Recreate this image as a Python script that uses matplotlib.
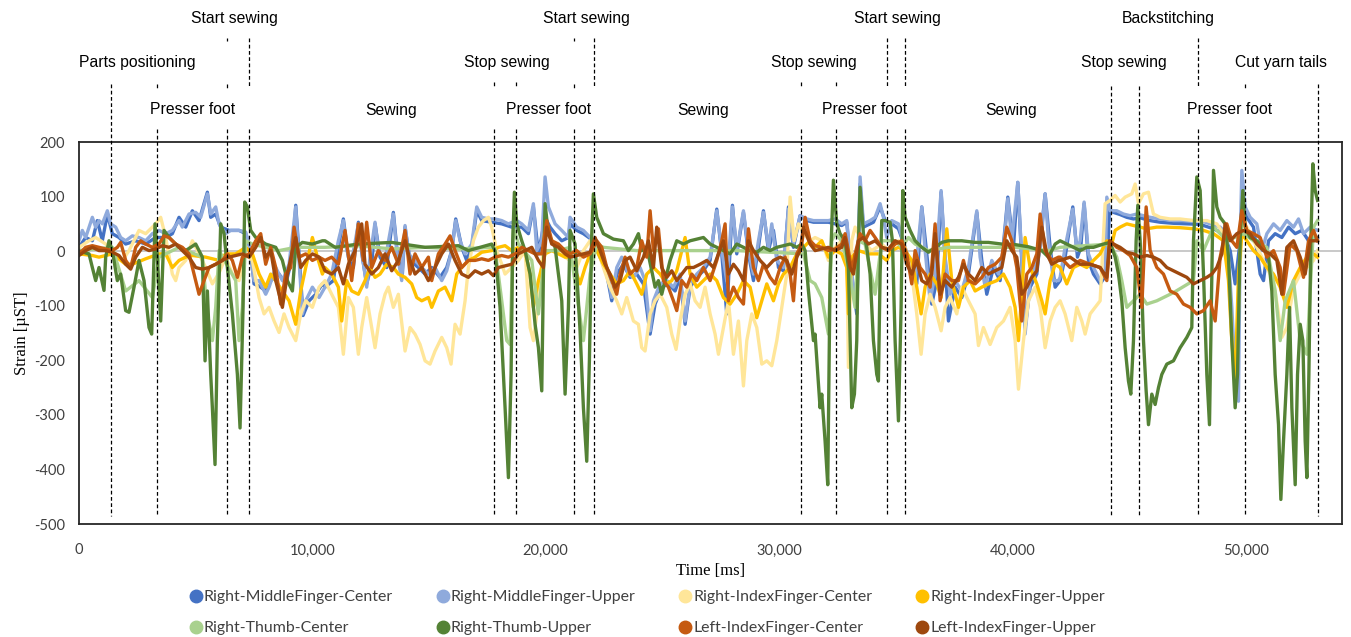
import numpy as np
import matplotlib
matplotlib.use("Agg")
import matplotlib.pyplot as plt
import matplotlib.transforms as mtransforms
from matplotlib.lines import Line2D
from matplotlib.ticker import FuncFormatter

# (time [ms], strain [uST])
middle_center = [(0, 7), (286, 25), (572, 19), (786, 56), (1000, 19), (1215, 68), (1429, 32), (1715, 25), (2001, 13), (2429, 19), (2858, 13), (3287, 25), (3715, 25), (4001, 32), (4287, 62), (4573, 44), (4859, 74), (5144, 56), (5502, 108), (5645, 62), (5859, 68), (6073, 44), (6431, 38), (6859, 38), (7145, 32), (7359, 1), (7502, -60), (7788, -66), (8002, -73), (8217, -54), (8574, -42), (8860, -60), (9146, -11), (9289, 84), (9431, -5), (9603, -118), (9860, -91), (10146, -79), (10432, -60),
                 (10544, -66), (10901, -54), (11116, 7), (11330, 59), (11544, -11), (11759, -30), (11973, 53), (12144, -11), (12330, -60), (12545, -24), (12688, 50), (12902, -11), (13188, -30), (13473, 71), (13659, -11), (13859, -42), (13974, 44), (14188, -17), (14545, -30), (14831, -42), (15117, -30), (15474, -48), (15760, -30), (15974, 1), (16146, 59), (16403, 7), (16617, -17), (16832, 7), (17046, 74), (17260, 56), (17689, 53), (18118, 50), (18546, 44), (18975, 44), (19261, 32), (19475, 81), (19690, -5), (19975, 62), (20189, 44), (20404, 32), (20690, 19), (20976, 25),
                 (21046, 50), (21332, 38), (21618, 32), (22046, 19), (22332, -11), (22618, -42), (22832, -91), (23047, -42), (23332, -24), (23618, -48), (23904, -42), (24190, -60), (24476, -152), (24690, -97), (24976, -66), (25261, -60), (25547, -73), (25762, -48), (25976, -134), (26191, -66), (26476, -48), (26762, -36), (27048, -17), (27334, 77), (27548, -5), (27762, -115), (28005, 84), (28191, -5), (28477, 71), (28691, -5), (28906, -54), (29120, 7), (29334, 74), (29549, 1), (29763, 38), (29978, -30), (30192, -36), (30406, 81), (30620, 7), (30906, 65), (31192, 56), (31478, 53),
                 (31547, 53), (32119, 53), (32690, 47), (32904, 53), (33119, -48), (33333, -115), (33476, 123), (33619, 44), (34048, 53), (34334, 81), (34548, 56), (34834, 50), (35120, 41), (35405, 7), (35691, -36), (35905, -60), (36120, 81), (36334, -5), (36549, -97), (36763, -54), (36949, 108), (37120, -17), (37263, -128), (37549, -66), (37835, -85), (38120, -42), (38478, 71), (38692, -17), (38906, -79), (39192, -30), (39478, -54), (39807, 99), (40049, 7), (40235, 126), (40406, -17), (40549, -140), (40764, -66), (41050, -42), (41407, 105), (41621, 7), (41836, -66),
                 (42049, -54), (42263, -11), (42592, 81), (42792, -11), (42935, 7), (43078, 87), (43264, -17), (43478, -42), (43764, -60), (44050, -42), (44164, 77), (44336, 71), (44621, 67), (44907, 62), (45193, 59), (45479, 61), (45908, 56), (46336, 53), (46907, 51), (47479, 50), (48051, 49), (48622, 41), (49051, 32), (49337, 1), (49551, -60), (49765, 19), (49837, 81), (50051, 62), (50337, 44), (50623, -42), (50766, -54), (50980, 19), (51266, 32), (51552, 25), (51838, 44), (52124, 32), (52409, 38), (52695, 19), (53081, 25)]

middle_upper = [(0, 19), (143, 38), (286, 25), (572, 62), (715, 44), (857, 56), (1000, 50), (1215, 74), (1358, 50), (1572, 44), (1786, 25), (2001, 19), (2286, 28), (2572, 25), (2858, 19), (3144, 32), (3430, 38), (3715, 32), (4001, 38), (4287, 56), (4430, 44), (4716, 68), (5002, 71), (5216, 62), (5502, 105), (5645, 68), (5859, 81), (6002, 50), (6288, 32), (6502, 38), (6859, 38), (7145, 35), (7288, 13), (7502, -54), (7717, -54), (8002, -79), (8145, -66), (8431, -30), (8717, -54), (9003, -24), (9289, 81), (9431, -17), (9574, -115), (9717, -91), (10003, -66), (10289, -85),
                (10544, -66), (10830, -42), (11116, 19), (11330, 56), (11473, 1), (11687, -17), (11973, 50), (12116, 1), (12330, -66), (12473, -11), (12688, 53), (12830, 1), (13116, -17), (13473, 68), (13616, 1), (13831, -54), (13974, 47), (14117, -5), (14402, -17), (14688, -30), (14974, -42), (15260, -30), (15546, -54), (15760, -36), (15974, 1), (16146, 56), (16332, 19), (16546, -5), (16832, 13), (17046, 81), (17260, 62), (17546, 59), (17832, 59), (18118, 56), (18404, 50), (18761, 56), (18975, 50), (19261, 38), (19475, 87), (19618, 1), (19833, 19), (19975, 136), (20118, 81), (20404, 50), (20690, 38), (20976, 25),
                (21046, 62), (21332, 44), (21618, 38), (22046, 19), (22332, 1), (22618, -30), (22832, -85), (23047, -30), (23261, -11), (23547, -42), (23761, -48), (24047, -30), (24261, -54), (24476, -146), (24619, -91), (24904, -60), (25190, -54), (25476, -66), (25762, -42), (25976, -128), (26191, -60), (26476, -42), (26762, -30), (27048, -11), (27334, 74), (27548, 1), (27762, -54), (28005, 81), (28191, 1), (28477, 74), (28691, 1), (28906, -42), (29120, 19), (29334, 71), (29549, 7), (29692, 50), (29906, -17), (30192, -30), (30406, 77), (30620, 13), (30906, 65), (31192, 59), (31478, 56),
                (31547, 56), (32119, 56), (32404, 59), (32690, 50), (32904, 56), (33119, -42), (33333, -103), (33476, 136), (33619, 50), (33905, 56), (34119, 62), (34334, 87), (34476, 62), (34619, 25), (34834, 56), (35120, 50), (35334, 13), (35620, -30), (35834, -54), (35977, 19), (36120, 81), (36263, 1), (36477, -91), (36691, -42), (36949, 111), (37120, -11), (37335, -79), (37549, -54), (37835, -73), (38120, -30), (38478, 74), (38620, -11), (38835, -66), (39121, -17), (39407, -42), (39621, 1), (39807, 96), (39978, 19), (40235, 126), (40406, -11), (40549, -152), (40764, -54), (40978, -30), (41193, 1), (41407, 105), (41550, 19), (41764, -54), (41979, -54),
                (42049, -48), (42263, 7), (42592, 77), (42764, 1), (42906, 19), (43078, 90), (43264, -5), (43478, -30), (43764, -54), (43978, -42), (44050, 99), (44193, 74), (44478, 74), (44764, 68), (45050, 65), (45336, 68), (45622, 65), (45908, 62), (46336, 59), (46907, 56), (47479, 56), (48051, 56), (48480, 50), (48908, 44), (49194, 32), (49408, -103), (49551, -226), (49694, -275), (49765, 19), (49837, 148), (49980, 81), (50194, 62), (50480, 50), (50694, 1), (50909, 32), (51195, 50), (51480, 38), (51766, 56), (52052, 44), (52266, 59), (52481, 32), (52767, 44), (53081, 38)]

index_center = [(0, 7), (429, 19), (715, 25), (1143, 13), (1429, 1), (1858, -17), (2144, 1), (2572, 38), (2858, 32), (3287, 50), (3501, 62), (3715, 25), (4001, -42), (4144, -54), (4287, -30), (4573, -17), (4859, 19), (5144, -5), (5430, -30), (5716, -60), (6002, -40), (6288, -11), (6573, -42), (6859, -54), (7145, -5), (7431, -17), (7717, -85), (7931, -115), (8145, -103), (8360, -128), (8574, -149), (8788, -115), (9003, -140), (9289, -164), (9503, -115), (9717, -91), (10003, -103), (10289, -66),
                (10544, -54), (10830, -79), (11116, -103), (11330, -189), (11544, -85), (11759, -103), (11973, -189), (12116, -140), (12330, -85), (12545, -140), (12688, -177), (12902, -115), (13116, -79), (13259, -66), (13473, -103), (13688, -79), (13974, -183), (14188, -140), (14402, -152), (14617, -171), (14831, -201), (15045, -207), (15260, -183), (15546, -158), (15760, -177), (15946, -207), (16117, -134), (16332, -152), (16546, -91), (16689, -30), (16903, 19), (17117, 44), (17332, 56), (17546, 62), (17689, 44), (17903, 1), (18118, -24), (18261, -42), (18546, -30), (18832, -17), (19118, 1), (19332, -140), (19475, -164), (19690, -91), (19975, 44), (20261, 19), (20547, 1), (20833, -11),
                (21046, -17), (21332, -30), (21618, 1), (21904, 19), (22189, 7), (22475, -30), (22761, -66), (23047, -91), (23261, -115), (23475, -85), (23761, -128), (23975, -134), (24118, -177), (24261, -183), (24476, -115), (24690, -91), (24904, -79), (25190, -103), (25404, -152), (25590, -180), (25762, -128), (25976, -79), (26191, -60), (26405, -91), (26619, -103), (26833, -66), (27048, -115), (27262, -152), (27405, -189), (27619, -140), (27834, -91), (28048, -189), (28262, -128), (28477, -247), (28620, -164), (28834, -115), (29048, -140), (29263, -207), (29477, -201), (29692, -210), (29906, -164), (30120, -103), (30335, -42), (30477, 99), (30649, 19), (30835, 50), (31049, 32), (31335, 19),
                (31547, 25), (31833, 19), (32119, -17), (32404, 7), (32690, 19), (32904, -5), (32976, -213), (33119, 19), (33262, 44), (33548, 19), (33976, 1), (34405, 13), (34691, 1), (35120, 19), (35405, 7), (35691, -42), (35905, -115), (36091, -189), (36263, -115), (36477, -79), (36691, -103), (36949, -146), (37120, -103), (37335, -85), (37621, -115), (37835, -66), (38120, -91), (38406, -115), (38549, -173), (38763, -140), (39049, -171), (39335, -140), (39621, -128), (39906, -103), (40121, -164), (40264, -253), (40478, -164), (40692, -91), (40978, -66), (41193, -103), (41407, -177), (41621, -128), (41836, -103),
                (42049, -91), (42263, -115), (42549, -164), (42764, -103), (42978, -128), (43121, -152), (43335, -115), (43549, -103), (43764, -91), (43978, 87), (44193, 93), (44407, 102), (44621, 90), (44836, 99), (45121, 105), (45264, 123), (45407, 87), (45622, 105), (45836, 108), (46050, 68), (46336, 62), (46765, 59), (47193, 59), (47765, 56), (48337, 56), (48765, 50), (49051, 32), (49265, -42), (49408, -164), (49551, -250), (49694, -103), (49837, 50), (50051, 44), (50337, 19), (50623, -5), (50909, -30), (51195, -54), (51409, -115), (51552, -158), (51766, -140), (52052, -66), (52338, -42), (52624, -30), (52909, -17), (53081, 1)]

index_upper = [(0, -5), (572, -8), (857, -11), (1429, -5), (2001, -24), (2286, -24), (2858, -14), (3430, -5), (3715, -5), (4001, -30), (4287, -17), (4573, -11), (4859, -8), (5430, -11), (6002, -17), (6288, -5), (6716, -5), (7145, 7), (7431, -5), (7717, -42), (8002, -66), (8217, -42), (8431, -54), (8717, -73), (9003, -91), (9289, -134), (9503, -73), (9717, -30), (10003, 25), (10217, -11), (10432, -42),
               (10544, -30), (10830, -42), (11116, -66), (11259, -128), (11473, -54), (11687, -73), (11973, -79), (12259, -54), (12473, -30), (12688, -48), (12902, -42), (13188, -24), (13473, -30), (13688, -42), (13974, -48), (14259, -60), (14474, -85), (14688, -91), (14974, -85), (15117, -103), (15403, -73), (15689, -66), (15974, -91), (16189, -42), (16403, -30), (16689, -17), (16975, -11), (17260, -2), (17689, 1), (17975, 7), (18261, 10), (18546, 1), (18832, 7), (19118, 1), (19332, -42), (19475, -103), (19690, -54), (19975, -5), (20261, 1), (20547, -5), (20833, -11),
               (21046, -11), (21332, -42), (21475, -60), (21689, -30), (21904, -5), (22189, 1), (22475, -24), (22761, -42), (23047, -60), (23332, -54), (23618, -36), (23904, -60), (24118, -79), (24333, -42), (24619, -30), (24904, -42), (25190, -60), (25404, -54), (25619, -36), (25976, 25), (26191, -42), (26476, -66), (26762, -54), (27048, -42), (27334, -54), (27619, -85), (27905, -97), (28191, -79), (28477, -54), (28763, -66), (29048, -122), (29263, -91), (29477, -60), (29763, -91), (29978, -60), (30192, -42), (30477, -30), (30763, -5), (31049, 7), (31335, 19),
               (31547, 7), (31833, 19), (32119, -11), (32404, 1), (32690, -5), (32904, -30), (32976, -115), (33119, -11), (33405, 1), (33833, -5), (34262, -5), (34619, -17), (34834, 1), (35120, 7), (35405, 1), (35691, -17), (35905, -66), (36091, -115), (36263, -66), (36477, -42), (36763, -60), (36949, -85), (37192, 41), (37406, -54), (37692, -103), (37906, -66), (38192, -54), (38406, -73), (38692, -66), (38978, -60), (39335, -54), (39621, -42), (39906, -66), (40121, -103), (40264, -164), (40406, -79), (40549, 25), (40764, -30), (41050, -60), (41264, -91), (41407, -115), (41621, -54), (41836, -24),
               (42049, -30), (42335, -60), (42621, -30), (42906, -24), (43192, -30), (43478, -17), (43764, -5), (44050, 19), (44193, 1), (44407, 38), (44621, 44), (44907, 50), (45193, 47), (45479, 44), (45765, 41), (46193, 44), (46622, 44), (47193, 43), (47765, 41), (48194, 38), (48622, 32), (49051, 19), (49265, -54), (49408, -164), (49551, -238), (49694, -42), (49837, 32), (50051, 19), (50337, 1), (50623, -11), (50909, -30), (51195, -42), (51480, -66), (51766, -103), (52052, -54), (52338, -30), (52624, -11), (52909, -5), (53081, -11)]

thumb_center = [(0, 1), (1429, 7), (2001, -73), (2572, -54), (3144, -85), (3430, -11), (4287, 7), (5287, -11), (5502, -115), (5716, -164), (5859, -103), (6002, 1), (6716, -54), (6859, -164), (7002, -103), (7145, 19), (7431, 13), (8574, 1), (9289, 7), (10003, 7),
                (10544, 7), (11973, 10), (13402, 4), (14831, 7), (16260, 4), (17689, 7), (17832, 4), (18118, -91), (18332, -164), (18475, -171), (18618, 44), (18832, 13), (19404, -17), (19690, -115), (19975, 1), (20547, 1),
                (21046, 7), (21618, -164), (21904, -42), (22189, 13), (22475, 7), (23904, 1), (25333, 1), (28191, 1), (31049, -5), (31335, -54),
                (31547, -60), (31833, -85), (32119, -152), (32262, 19), (32404, 32), (32690, 19), (32976, -30), (33262, -103), (33405, 19), (33690, 13), (34119, -79), (34405, 19), (34977, 19), (35262, 7), (35548, 25), (35834, 13), (36406, 1), (37263, 7), (38692, 7), (40121, 7), (41550, 1),
                (42049, 7), (44193, 13), (44478, -11), (44693, -54), (44907, -103), (45193, -91), (45479, -79), (45765, -97), (46193, -91), (46907, -76), (47765, -54), (47908, 19), (48194, 1), (48622, 44), (48908, 32), (49194, 19), (49908, 32), (50337, 19), (50909, 7), (51266, -73), (51480, -164), (51695, -91), (52052, -54), (52338, -164), (52624, -189), (52909, 44), (53081, 56)]

thumb_upper = [(0, 0), (429, -5), (572, -30), (715, -54), (857, -30), (1072, -72), (1143, -11), (1286, 19), (1429, 1), (1643, -54), (1786, -42), (2000, -109), (2144, -112), (2358, -66), (2572, -17), (2787, -54), (3001, -140), (3115, -152), (3258, 50), (3358, -11), (3501, -128), (3644, 38), (3858, 25), (4287, 7), (4573, 1), (5002, 13), (5287, -11), (5402, -201), (5502, -73), (5645, -226), (5716, -287), (5830, -391), (5930, -164), (6073, 50), (6216, 32), (6359, -30), (6573, -115), (6788, -226), (6902, -324), (7031, -103), (7102, 90), (7216, 81), (7359, 38), (7574, 25), (8002, 13), (8431, 7), (8717, -17), (8931, -54), (9146, -73), (9289, 7), (9574, 16), (10003, 13), (10432, 19),
               (10544, 19), (10973, 7), (11973, 13), (13402, 16), (14831, 7), (16260, 10), (16689, 1), (17689, 13), (17832, 0), (18046, -103), (18261, -287), (18404, -415), (18518, -226), (18589, 19), (18661, 108), (18761, 50), (18975, 19), (19118, 1), (19332, -42), (19547, -134), (19690, -177), (19833, -256), (19904, -42), (19975, 87), (20118, 32), (20404, 7), (20547, -42), (20690, -91), (20833, -262), (20976, -103),
               (21046, 38), (21260, 13), (21475, -146), (21618, -287), (21761, -385), (21875, -200), (21975, 30), (22046, 105), (22189, 62), (22475, 32), (22904, 22), (23332, 19), (23547, 1), (23761, 13), (23975, 32), (24118, 1), (24333, 7), (24547, -36), (24690, -66), (24833, -54), (24976, -79), (25190, -42), (25333, -17), (25619, 19), (25905, 13), (26191, 19), (26476, 22), (26762, 25), (27048, 13), (27334, 7), (27620, 1), (27905, -5), (28191, 13), (28477, 7), (28763, 1), (29048, -2), (29334, 7), (29620, 1), (29906, 7), (30192, 10), (30477, 13), (30763, 7), (30977, 13), (31120, 1), (31263, -73), (31478, -164),
               (31547, -152), (31761, -287), (31833, -262), (31976, -348), (32090, -428), (32190, -42), (32333, 130), (32476, 50), (32619, 32), (32833, 19), (32976, -30), (33119, -287), (33233, -262), (33333, -164), (33405, 19), (33476, 117), (33619, 32), (33762, 7), (33905, -42), (34048, -164), (34191, -226), (34262, -238), (34334, -42), (34405, 56), (34548, 56), (34762, 53), (34862, 19), (34977, -164), (35120, -311), (35234, -103), (35305, 111), (35405, 62), (35620, 38), (35834, 19), (36120, 7), (36406, -2), (36691, 7), (36977, 16), (37263, 19), (37835, 19), (38406, 16), (38978, 16), (39549, 13), (40121, 12), (40692, 8), (41264, 1), (41550, -11), (41836, 13),
               (42049, 19), (42621, 7), (42906, 1), (43192, 7), (43478, 7), (43907, 13), (44193, 16), (44407, -11), (44550, -42), (44693, -91), (44836, -177), (44978, -238), (45078, -262), (45193, -164), (45307, 19), (45379, 84), (45479, 19), (45622, -164), (45736, -256), (45836, -318), (45979, -262), (46122, -281), (46265, -250), (46407, -226), (46622, -207), (46907, -201), (47193, -177), (47479, -158), (47693, -140), (47765, 19), (47908, 136), (48051, 111), (48194, -42), (48337, -226), (48451, -318), (48551, -42), (48622, 148), (48765, 81), (48908, 62), (49122, 50), (49265, -11), (49408, -164), (49551, -287), (49651, -226), (49765, 19), (49880, 111), (49980, 44), (50194, 25), (50480, 19), (50766, 7), (50980, -11), (51123, -73), (51266, -226), (51409, -318), (51509, -455), (51623, -348), (51766, -226), (51881, -103), (51981, -287), (52124, -428), (52224, -226), (52338, -134), (52452, -164), (52552, -348), (52624, -415), (52710, -226), (52795, 19), (52881, 160), (52981, 111), (53081, 93)]

left_center = [(0, -5), (286, 7), (572, 10), (857, 7), (1143, 4), (1429, 1), (1643, 7), (1786, 16), (2001, -17), (2215, -30), (2429, 7), (2644, 19), (2858, 13), (3144, 7), (3430, 13), (3644, 28), (3858, 25), (4144, 13), (4430, 7), (4716, -5), (4930, -42), (5144, -79), (5359, -54), (5573, -30), (5859, -24), (6145, -17), (6359, -5), (6573, -17), (6788, -48), (7002, -11), (7288, -5), (7574, 19), (7788, 32), (8002, -24), (8217, 7), (8431, -30), (8645, -97), (8860, -42), (9074, -30), (9217, 44), (9431, -11), (9717, -5), (10003, -17), (10289, -11),
               (10544, -17), (10830, -11), (11116, -24), (11402, 38), (11687, -54), (11973, 50), (12187, -17), (12330, 53), (12545, -30), (12830, 1), (13116, -17), (13402, 7), (13688, -24), (13974, 38), (14188, -42), (14402, -5), (14688, -30), (14974, -11), (15117, -54), (15403, -5), (15689, 13), (15903, 28), (16117, 1), (16403, -30), (16689, -17), (16975, -17), (17260, -14), (17546, -17), (17832, -11), (18118, -8), (18404, -11), (18689, -5), (18975, 7), (19261, 1), (19547, -5), (19833, -5), (20046, 56), (20261, 19), (20547, 13), (20833, 1),
               (21046, -5), (21332, 1), (21618, -11), (21904, -5), (22189, 19), (22404, 7), (22618, -30), (22832, -54), (23047, -79), (23190, -42), (23404, -11), (23618, -42), (23904, -30), (24118, 19), (24333, -11), (24476, 74), (24619, 1), (24833, 41), (25047, -54), (25261, -66), (25476, -91), (25619, -109), (25833, -54), (26048, -66), (26262, -42), (26476, -54), (26762, -30), (27048, -54), (27334, -17), (27548, 19), (27691, 50), (27834, -91), (28048, -66), (28262, -85), (28477, -97), (28691, 41), (28906, -30), (29120, -54), (29334, -24), (29620, -48), (29834, -60), (30049, -30), (30263, -11), (30477, -42), (30620, -91), (30763, -5), (30977, 13), (31120, 62), (31335, 19),
               (31547, 10), (31833, 7), (32119, 1), (32404, 4), (32690, 13), (32833, 32), (32976, 1), (33119, -36), (33262, -5), (33476, 32), (33690, 19), (33905, 38), (34119, 25), (34405, 7), (34691, 1), (34977, 13), (35262, 19), (35477, -5), (35691, -60), (35834, 1), (36048, -30), (36263, -42), (36477, -66), (36691, 50), (36906, -91), (37120, -42), (37406, -54), (37692, -54), (37906, -17), (38120, -54), (38406, -60), (38692, -48), (38978, -30), (39264, -24), (39549, -11), (39764, 44), (39978, 19), (40192, -30), (40406, -128), (40621, -42), (40835, -30), (41050, -5), (41193, 68), (41407, 1), (41693, -17), (41979, -11),
               (42049, -11), (42478, -30), (42906, -17), (43335, -24), (43764, -30), (44050, -54), (44193, 19), (44478, 7), (44764, 1), (45050, -8), (45336, -30), (45550, -103), (45736, 81), (45908, 1), (46193, -30), (46479, -42), (46765, -73), (47050, -79), (47336, -97), (47622, -103), (47908, -115), (48194, -109), (48480, -91), (48694, -128), (48908, -11), (49194, 50), (49408, 19), (49622, 7), (49837, 74), (50051, 38), (50337, 32), (50623, 25), (50909, -11), (51195, 1), (51480, -30), (51623, -79), (51909, 13), (52195, 1), (52481, -48), (52695, 19), (52909, 38), (53081, 19)]

left_upper = [(0, -8), (286, 1), (572, 7), (857, 1), (1143, 1), (1429, -2), (1715, -8), (2001, -24), (2215, -33), (2429, -11), (2715, 7), (3001, 1), (3287, 4), (3573, 10), (3858, 7), (4144, 13), (4430, 1), (4716, -11), (5002, -30), (5287, -33), (5573, -30), (5859, -24), (6145, -17), (6431, -11), (6716, -8), (7002, -5), (7288, -11), (7574, 7), (7788, 25), (8002, -11), (8217, 1), (8431, -54), (8717, -103), (8931, -42), (9146, 1), (9289, 25), (9503, -30), (9717, -17), (10003, -5), (10289, -11),
              (10544, -36), (10830, -42), (11116, -30), (11330, -60), (11544, -24), (11830, 1), (12116, 50), (12259, -24), (12545, -42), (12830, -30), (13116, -5), (13402, -36), (13688, -17), (13974, 19), (14188, -17), (14402, -42), (14688, -30), (14974, -54), (15260, -30), (15546, -5), (15832, 13), (16117, -17), (16403, -42), (16689, -48), (16975, -36), (17260, -42), (17546, -36), (17760, -45), (17975, -30), (18261, -27), (18546, -24), (18832, -5), (19118, 1), (19404, 7), (19690, -17), (19904, -30), (20046, 44), (20261, 13), (20547, 7), (20833, -5),
              (21046, -11), (21332, -8), (21618, -5), (21904, -2), (22118, 25), (22332, 1), (22546, -24), (22761, -42), (22975, -66), (23190, -54), (23404, -17), (23618, -11), (23904, -36), (24190, -11), (24404, 19), (24619, -30), (24761, 44), (24976, -30), (25190, -48), (25404, -36), (25619, -54), (25833, -42), (26048, -30), (26334, -30), (26619, -24), (26905, -17), (27191, -30), (27405, -5), (27619, 19), (27834, -42), (28048, -24), (28262, -36), (28477, -54), (28691, 19), (28906, 1), (29191, -17), (29477, -30), (29763, -17), (30049, -11), (30335, -17), (30549, -42), (30763, -11), (30906, 1), (31049, 44), (31335, 13),
              (31547, 1), (31833, 4), (32119, 7), (32404, 1), (32690, 7), (32833, 25), (33047, -30), (33190, -42), (33405, 19), (33619, 25), (33833, 13), (34119, 19), (34405, 7), (34691, 4), (34977, 19), (35262, 13), (35477, -24), (35691, -42), (35905, -17), (36120, -54), (36334, -60), (36549, -42), (36691, 32), (36906, -79), (37120, -54), (37406, -66), (37692, -48), (37906, -24), (38120, -42), (38406, -54), (38692, -30), (38978, -42), (39264, -36), (39549, -30), (39764, 19), (39978, 1), (40192, -11), (40406, -79), (40621, -66), (40835, -48), (41050, -36), (41264, 44), (41478, -5), (41693, -24), (41979, -17),
              (42049, -17), (42478, -11), (42906, -24), (43335, -24), (43764, -30), (44050, -48), (44164, 19), (44336, 13), (44621, 7), (44907, -2), (45193, -5), (45479, -11), (45765, -8), (46050, -11), (46336, -17), (46622, -30), (46907, -36), (47193, -42), (47479, -48), (47765, -60), (48051, -54), (48337, -48), (48551, -42), (48765, -30), (48980, -5), (49122, 50), (49337, 19), (49622, 32), (49908, 38), (50194, 32), (50480, 13), (50766, 1), (51052, -5), (51338, -17), (51552, -79), (51766, 7), (52052, 19), (52338, -11), (52552, -42), (52767, 19), (53081, 19)]

series_names = ["Right-MiddleFinger-Center", "Right-MiddleFinger-Upper", "Right-IndexFinger-Center",
                "Right-IndexFinger-Upper", "Right-Thumb-Center", "Right-Thumb-Upper",
                "Left-IndexFinger-Center", "Left-IndexFinger-Upper"]
series_data = [middle_center, middle_upper, index_center, index_upper,
               thumb_center, thumb_upper, left_center, left_upper]
colors = ["#4472C4", "#8FAADC", "#FFE699", "#FFC000", "#A9D18E", "#548235", "#C55A11", "#9E480E"]

# phase boundaries [ms]
events = [1372, 3343, 6344, 7287, 17788, 18731, 21217, 22074, 30947, 32448,
          34634, 35405, 44235, 45435, 47964, 49979, 53108]
phases = [("Start sewing", 6643, 0), ("Parts positioning", 2486, 1), ("Presser foot", 4886, 2),
          ("Sewing", 13371, 2), ("Stop sewing", 18343, 1), ("Start sewing", 21729, 0),
          ("Presser foot", 20143, 2), ("Sewing", 26743, 2), ("Stop sewing", 31500, 1),
          ("Presser foot", 33686, 2), ("Start sewing", 35057, 0), ("Sewing", 39943, 2),
          ("Stop sewing", 44786, 1), ("Backstitching", 46671, 0), ("Presser foot", 49329, 2),
          ("Cut yarn tails", 51514, 1)]

W, H = 1351, 637
fig = plt.figure(figsize=(W / 100, H / 100), dpi=100)
ax = fig.add_axes([79 / W, 1 - 524 / H, 1263 / W, 382 / H])

plt.rcParams['axes.unicode_minus'] = False

ax.axhline(0, color="#c0c0c0", lw=1.2, zorder=1)
for pts, c in zip(series_data, colors):
    t, v = np.array(pts, dtype=float).T
    ax.plot(t, v, color=c, lw=2.4, solid_joinstyle="round", zorder=2)

ax.set_xlim(0, 54130)
ax.set_ylim(-500, 200)
ax.set_xticks(np.arange(0, 50001, 10000))
ax.set_yticks(np.arange(-500, 201, 100))
ax.xaxis.set_major_formatter(FuncFormatter(lambda x, p: f"{x:,.0f}"))
ax.tick_params(length=0, labelsize=10.5, colors="#404040")
ax.tick_params(axis="x", pad=14)
ax.tick_params(axis="y", pad=10)
for lab in ax.get_xticklabels() + ax.get_yticklabels():
    lab.set_family(["Lato", "DejaVu Sans"])
for s in ax.spines.values():
    s.set_color("#262626")
    s.set_linewidth(1.3)

ax.set_xlabel("Time [ms]", family="Liberation Serif", fontsize=12, labelpad=4)
ax.set_ylabel("Strain [µST]", family="Liberation Serif", fontsize=12, labelpad=3)

# dashed phase lines, drawn in pieces where the phase labels cover them
full = [(84, 516)]
under_foot = [(84, 88), (129, 516)]
start_side = [(38, 41), (84, 88), (129, 516)]
tall = [(38, 88), (129, 516)]
stop_side = [(82, 86), (129, 516)]
late = [(86, 516)]
spans = [full, under_foot, start_side, tall, stop_side, stop_side, start_side, tall,
         stop_side, stop_side, tall, tall, late, late, tall, under_foot, full]
trans = mtransforms.blended_transform_factory(ax.transData, fig.transFigure)
for t, sp in zip(events, spans):
    for y0, y1 in sp:
        ax.add_line(Line2D([t, t], [1 - y0 / H, 1 - y1 / H], transform=trans, color="black",
                           lw=0.9, ls=(0, (3, 2)), clip_on=False, zorder=5))

row_y = [18, 62, 110]
for txt, t, r in phases:
    ax.text(t, 1 - row_y[r] / H, txt, transform=trans, ha="center", va="center",
            family="Liberation Sans", fontsize=11.3, color="black")

# legend is filled row by row in the reference, matplotlib fills columns
order = [0, 4, 1, 5, 2, 6, 3, 7]
handles = [Line2D([], [], ls="none", marker="o", markersize=9, color=colors[i]) for i in order]
labels = [series_names[i] for i in order]
fig.legend(handles, labels, loc="center", bbox_to_anchor=(0.479, 0.038), ncol=4,
           frameon=False, handletextpad=0.1, columnspacing=2.75,
           labelspacing=1.05, handlelength=0.8, labelcolor="#404040",
           prop={"family": ["Lato", "DejaVu Sans"], "size": 11.4})

fig.savefig("out.png", dpi=100)
